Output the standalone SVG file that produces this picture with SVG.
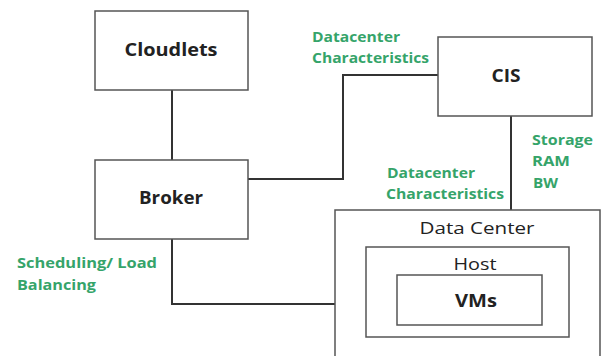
<svg xmlns="http://www.w3.org/2000/svg" width="603" height="356" viewBox="0 0 603 356">
<style>
.box{fill:#fff;stroke:#555;stroke-width:1.5}
.conn{fill:none;stroke:#333;stroke-width:2}
.t{font-family:"Open Sans","Liberation Sans",sans-serif;fill:#222;text-anchor:middle}
.b{font-weight:bold;font-size:17px}
.n{font-size:17px}
.g{font-family:"Open Sans","Liberation Sans",sans-serif;font-weight:bold;font-size:13.5px;fill:#35a46a}
</style>
<rect width="603" height="356" fill="#fff"/>
<g id="connectors">
<path class="conn" d="M172 90 V160"/>
<path class="conn" d="M248 179 H343 V75 H438"/>
<path class="conn" d="M511 116 V210"/>
<path class="conn" d="M172 239 V304 H335"/>
</g>
<g id="cloudlets"><rect class="box" x="95" y="11" width="153" height="79"/><text class="t b" x="171" y="56" textLength="93" lengthAdjust="spacingAndGlyphs">Cloudlets</text></g>
<g id="broker"><rect class="box" x="95" y="160" width="153" height="79"/><text class="t b" x="171" y="204" textLength="64" lengthAdjust="spacingAndGlyphs">Broker</text></g>
<g id="cis"><rect class="box" x="438" y="37" width="154" height="79"/><text class="t b" x="506" y="82" textLength="29" lengthAdjust="spacingAndGlyphs">CIS</text></g>
<g id="datacenter"><rect class="box" x="335" y="210" width="265" height="160"/><text class="t n" x="477" y="234" textLength="115" lengthAdjust="spacingAndGlyphs">Data Center</text></g>
<g id="host"><rect class="box" x="366" y="247" width="203" height="90"/><text class="t n" x="475" y="270" textLength="43" lengthAdjust="spacingAndGlyphs">Host</text></g>
<g id="vms"><rect class="box" x="397" y="275" width="145" height="50"/><text class="t b" x="476" y="307" textLength="42" lengthAdjust="spacingAndGlyphs">VMs</text></g>
<g id="labels">
<text class="g" x="312" y="42" textLength="88" lengthAdjust="spacingAndGlyphs">Datacenter</text>
<text class="g" x="312" y="63" textLength="117" lengthAdjust="spacingAndGlyphs">Characteristics</text>
<text class="g" x="532" y="145" textLength="61" lengthAdjust="spacingAndGlyphs">Storage</text>
<text class="g" x="532" y="166" textLength="38" lengthAdjust="spacingAndGlyphs">RAM</text>
<text class="g" x="533" y="188" textLength="25" lengthAdjust="spacingAndGlyphs">BW</text>
<text class="g" x="387" y="178" textLength="88" lengthAdjust="spacingAndGlyphs">Datacenter</text>
<text class="g" x="386" y="199" textLength="118" lengthAdjust="spacingAndGlyphs">Characteristics</text>
<text class="g" x="17" y="268" textLength="140" lengthAdjust="spacingAndGlyphs">Scheduling/ Load</text>
<text class="g" x="17" y="290" textLength="79" lengthAdjust="spacingAndGlyphs">Balancing</text>
</g>
</svg>
